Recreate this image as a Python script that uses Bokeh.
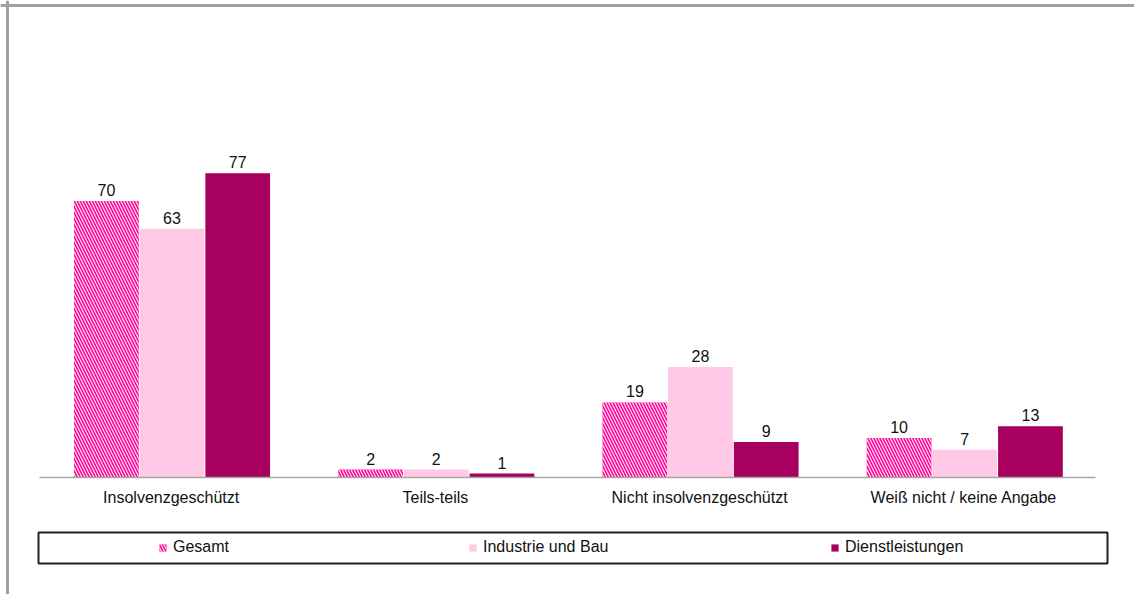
from bokeh.plotting import figure
from bokeh.models import ColumnDataSource, FactorRange, Legend, LegendItem, BoxAnnotation, Span
from bokeh.transform import dodge
from bokeh.core.properties import value
from bokeh.embed import file_html
from bokeh.resources import INLINE

# ---- data ----
categories = ["Insolvenzgeschützt", "Teils-teils", "Nicht insolvenzgeschützt", "Weiß nicht / keine Angabe"]
series_names = ["Gesamt", "Industrie und Bau", "Dienstleistungen"]
gesamt = [70, 2, 19, 10]
industrie = [63, 2, 28, 7]
dienstleistungen = [77, 1, 9, 13]

FONT = "Liberation Sans"
C_GES = "#ff0096"
C_IND = "#ffc9e6"
C_DIE = "#a8005f"

W_PX, H_PX = 1134, 594
BASE_PX = 477          # baseline position from top of canvas
PX_PER_UNIT = 3.95

src = ColumnDataSource(dict(
    cat=categories,
    g=gesamt, i=industrie, d=dienstleistungen,
    gl=[str(v) for v in gesamt],
    il=[str(v) for v in industrie],
    dl=[str(v) for v in dienstleistungen],
))

x_range = FactorRange(*categories, range_padding=0.0729, range_padding_units="percent")
p = figure(x_range=x_range,
           y_range=(-(H_PX - BASE_PX) / PX_PER_UNIT, BASE_PX / PX_PER_UNIT),
           width=W_PX, height=H_PX, output_backend="svg", toolbar_location=None,
           y_axis_location=None,
           min_border_left=0, min_border_right=0, min_border_top=0, min_border_bottom=0)
p.outline_line_color = None
p.xgrid.grid_line_color = None
p.ygrid.grid_line_color = None
p.background_fill_color = "white"
p.border_fill_color = "white"

W = 0.245
r_g = p.vbar(x=dodge("cat", -0.245, range=p.x_range), top="g", width=W, source=src,
             fill_color=C_GES, line_color=None,
             hatch_pattern="left_diagonal_line", hatch_color="white", hatch_scale=6,
             hatch_weight=1.2, hatch_alpha=0.9)
r_i = p.vbar(x=dodge("cat", 0.003, range=p.x_range), top="i", width=W, source=src,
             fill_color=C_IND, line_color=None)
r_d = p.vbar(x=dodge("cat", 0.252, range=p.x_range), top="d", width=W, source=src,
             fill_color=C_DIE, line_color=None)

for off, col, lab in [(-0.245, "g", "gl"), (0.003, "i", "il"), (0.252, "d", "dl")]:
    p.text(x=dodge("cat", off, range=p.x_range), y=col, text=lab, source=src,
           text_align="center", text_baseline="alphabetic", y_offset=-11,
           text_font=value(FONT), text_font_size="16px", text_color="#111111")

ax = p.xaxis[0]
ax.fixed_location = 0
ax.bounds = (0, len(categories))
ax.axis_line_color = "#a6a6a6"
ax.axis_line_width = 1.5
ax.major_tick_line_color = None
ax.minor_tick_line_color = None
ax.major_tick_out = 0
ax.major_tick_in = 0
ax.major_label_standoff = 11
ax.major_label_text_font = FONT
ax.major_label_text_font_size = "16px"
ax.major_label_text_color = "#111111"

# outer grey frame (left and top edges)
p.add_layout(Span(location=7, dimension="height", location_units="screen",
                  line_color="#a0a0a0", line_width=3))
p.add_layout(Span(location=H_PX - 5, dimension="width", location_units="screen",
                  line_color="#a0a0a0", line_width=3))

# legend box
box = BoxAnnotation(left=38, right=1107, top=H_PX - 532, bottom=H_PX - 563,
                    left_units="screen", right_units="screen", top_units="screen", bottom_units="screen",
                    fill_color=None, fill_alpha=0, line_color="#222222", line_alpha=1.0, line_width=2)
p.add_layout(box)

for r, name, xloc in [(r_g, series_names[0], 158), (r_i, series_names[1], 468), (r_d, series_names[2], 830)]:
    leg = Legend(items=[LegendItem(label=name, renderers=[r])], location=(xloc, H_PX - 557),
                 orientation="horizontal", padding=0, margin=0, border_line_color=None,
                 background_fill_alpha=0, glyph_width=9, glyph_height=9, label_standoff=6,
                 label_text_font=FONT, label_text_font_size="16px", label_text_color="#111111",
                 label_height=20)
    p.add_layout(leg, "center")

open("out.html", "w").write(file_html(p, INLINE))
